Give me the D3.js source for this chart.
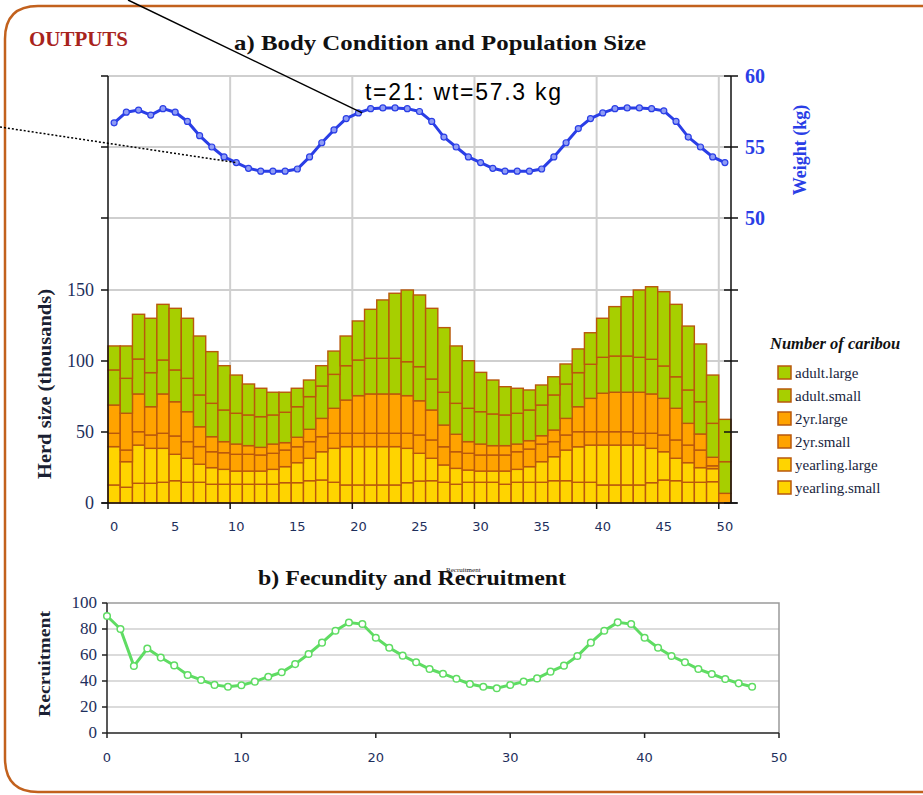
<!DOCTYPE html>
<head lang="en">
<meta charset="utf-8">
<title>Outputs: Body Condition, Population Size and Recruitment</title>
<style>
body { margin:0; background:#fff; }
text { font-family:"Liberation Serif","Times New Roman",serif; }
</style>
<script src="https://cdnjs.cloudflare.com/ajax/libs/d3/7.8.5/d3.min.js"></script>
</head>
<body>
<script>
// Time step categories (months) for panel a and panel b
var steps = d3.range(51);
var recSteps = d3.range(49);

// Mean body weight (kg), one value per time step
var weight = [56.7, 57.45, 57.6, 57.25, 57.7, 57.45, 56.8, 55.8, 55.0, 54.3,
	53.9, 53.5, 53.3, 53.3, 53.3, 53.45, 54.3, 55.3, 56.2, 57.0,
	57.4, 57.7, 57.75, 57.75, 57.7, 57.5, 56.8, 55.7, 55.0, 54.3,
	53.9, 53.5, 53.3, 53.3, 53.3, 53.45, 54.3, 55.3, 56.3, 57.0,
	57.4, 57.7, 57.75, 57.75, 57.7, 57.55, 56.8, 55.7, 55.0, 54.3,
	53.9];

// Herd size (thousands) by class, stacked bottom to top
var yearlingSmall = [12.7, 11.1, 13.9, 13.9, 14.6, 15.7, 14.6, 14.6, 13.2, 13.2,
	13.2, 13.2, 13.2, 13.2, 14.3, 14.3, 15.7, 16.2, 14.6, 12.7,
	12.7, 12.7, 12.7, 12.7, 14.3, 15.5, 15.7, 14.6, 13.2, 14.6,
	14.6, 14.6, 13.2, 14.6, 14.6, 14.6, 15.7, 15.7, 14.6, 14.6,
	12.7, 12.7, 12.7, 12.7, 14.3, 16.2, 15.7, 14.6, 14.6, 15.0,
	0];
var yearlingLarge = [27.0, 18.0, 26.9, 24.6, 23.9, 18.6, 16.9, 12.7, 11.7, 10.5,
	9.3, 9.3, 9.3, 10.5, 11.3, 14.1, 15.8, 19.9, 23.9, 27.0,
	27.0, 27.0, 27.0, 27.0, 24.2, 19.5, 15.8, 12.2, 11.2, 8.6,
	7.9, 7.9, 9.3, 9.1, 11.0, 14.5, 16.9, 21.6, 25.0, 26.2,
	28.1, 28.1, 28.1, 28.1, 24.2, 19.9, 15.8, 13.8, 10.3, 9.2,
	0];
var twoYrSmall = [9.4, 8.2, 9.4, 9.4, 10.6, 12.9, 11.7, 12.4, 11.2, 11.7,
	11.8, 11.8, 11.3, 11.3, 11.7, 11.2, 11.7, 10.6, 10.6, 9.4,
	9.4, 9.4, 9.4, 9.4, 10.6, 12.9, 12.9, 12.8, 11.7, 11.8,
	11.3, 11.3, 11.3, 12.4, 12.4, 12.4, 10.6, 10.6, 10.6, 9.4,
	9.4, 9.4, 9.4, 8.3, 10.6, 11.8, 12.9, 12.4, 12.4, 2.0,
	0];
var twoYrLarge = [19.9, 25.9, 26.6, 19.9, 27.7, 24.1, 21.1, 14.0, 10.6, 7.8,
	7.2, 6.1, 5.4, 6.5, 5.2, 6.7, 8.7, 12.9, 17.6, 23.4,
	26.5, 27.7, 27.7, 27.7, 26.5, 24.1, 21.1, 15.3, 12.3, 8.2,
	7.7, 6.6, 6.6, 5.4, 5.9, 5.9, 8.2, 11.7, 17.6, 23.5,
	27.1, 27.8, 27.8, 28.9, 27.7, 25.8, 22.3, 15.3, 11.3, 6.0,
	6.8];
var adultSmall = [24.7, 24.6, 24.6, 24.0, 23.9, 22.4, 23.5, 22.4, 23.5, 22.3,
	21.7, 21.6, 21.6, 20.5, 21.4, 21.5, 23.0, 22.8, 23.9, 24.2,
	25.1, 25.1, 25.1, 25.1, 23.9, 24.0, 21.8, 23.1, 21.8, 23.5,
	22.8, 22.3, 21.6, 21.7, 21.6, 21.6, 24.7, 24.2, 24.0, 24.0,
	25.3, 25.5, 25.5, 24.6, 24.4, 22.8, 22.2, 23.5, 22.7, 23.9,
	22.3];
var adultLarge = [16.9, 22.8, 31.5, 38.3, 39.2, 43.4, 42.3, 41.5, 36.4, 31.2,
	26.9, 21.8, 20.0, 16.0, 14.1, 13.0, 11.7, 14.3, 16.4, 20.9,
	27.5, 34.5, 41.1, 45.8, 50.5, 50.5, 49.8, 45.5, 40.4, 33.5,
	27.7, 23.9, 19.9, 17.6, 14.1, 14.1, 12.8, 14.1, 16.7, 22.2,
	27.5, 34.8, 41.8, 47.4, 51.1, 52.3, 51.0, 45.0, 40.7, 34.0,
	29.8];

// Recruitment, panel b
var recruitment = [90, 80, 51.5, 65, 58, 52, 44.6, 40.8, 37, 35.6,
	36.7, 39.5, 43.3, 46.7, 53, 60.8, 69.5, 78.7, 85, 83.8,
	73.3, 65.6, 59.5, 54.4, 49.2, 45.6, 41.7, 37.7, 35.6, 34.4,
	36.9, 39.5, 42, 47.2, 51.8, 59.2, 69.5, 78.7, 85.1, 83.8,
	73.3, 65.6, 59.2, 54.4, 49.2, 45.4, 41.5, 38.2, 35.6];

// Class keys (bottom to top) and legend order (top to bottom)
var classKeys = ["yearling.small", "yearling.large", "2yr.small", "2yr.large", "adult.small", "adult.large"];
var legendKeys = ["adult.large", "adult.small", "2yr.large", "2yr.small", "yearling.large", "yearling.small"];

// Tick labels
var herdTicks = [0, 50, 100, 150];
var weightTicks = [50, 55, 60];
var stepLabels = [0, 5, 10, 15, 20, 25, 30, 35, 40, 45, 50];
var recYTicks = [0, 20, 40, 60, 80, 100];
var recXTicks = [0, 10, 20, 30, 40, 50];

var width = 923, height = 795;
var svg = d3.select("body").append("svg")
	.attr("width", width)
	.attr("height", height);

var navy = "#1e2f5c";
var blue = "#2a3ee6";
var gridCol = "#cfcfcf";
var barStroke = "#b9580c";

var classColor = d3.scaleOrdinal()
	.domain(classKeys)
	.range(["#ffd400", "#ffd400", "#ffa300", "#ffa300", "#a7cf00", "#a7cf00"]);

// Rounded frame
svg.append("path")
	.attr("d", "M 930 6 H 38 Q 5 6 5 39 V 758 Q 5 792 38 792 H 930")
	.style("fill", "none")
	.style("stroke", "#c2611d")
	.style("stroke-width", 2.5);

svg.append("text")
	.attr("x", 29).attr("y", 46)
	.attr("textLength", 99)
	.attr("lengthAdjust", "spacingAndGlyphs")
	.style("font-size", "20px")
	.style("font-weight", "bold")
	.style("fill", "#a8231c")
	.text("OUTPUTS");

// ---------- Panel a ----------
var x = d3.scaleLinear().domain([0, 51]).range([108, 731]);
var yHerd = d3.scaleLinear().domain([0, 150]).range([503, 290]);
var yWt = d3.scaleLinear().domain([50, 60]).range([218, 76]);
var bw = x(1) - x(0);

svg.append("text")
	.attr("x", 440).attr("y", 50)
	.attr("text-anchor", "middle")
	.attr("textLength", 412)
	.attr("lengthAdjust", "spacingAndGlyphs")
	.style("font-size", "22px")
	.style("font-weight", "bold")
	.style("fill", "#111")
	.text("a)  Body Condition and Population Size");

// grid
var gridYs = weightTicks.map(yWt).concat(herdTicks.slice(1).map(yHerd));
svg.append("g").selectAll("line")
	.data(gridYs)
	.enter()
	.append("line")
		.attr("x1", x(0)).attr("x2", x(51))
		.attr("y1", function(d) { return d; })
		.attr("y2", function(d) { return d; })
		.style("stroke", gridCol)
		.style("stroke-width", 2);
svg.append("g").selectAll("line")
	.data([10, 20, 30, 40, 50])
	.enter()
	.append("line")
		.attr("x1", function(d) { return x(d); })
		.attr("x2", function(d) { return x(d); })
		.attr("y1", yWt(60)).attr("y2", yHerd(0))
		.style("stroke", gridCol)
		.style("stroke-width", 2);

// stacked bars
var table = steps.map(function(t) {
	return {
		t: t,
		"yearling.small": yearlingSmall[t],
		"yearling.large": yearlingLarge[t],
		"2yr.small": twoYrSmall[t],
		"2yr.large": twoYrLarge[t],
		"adult.small": adultSmall[t],
		"adult.large": adultLarge[t]
	};
});
var series = d3.stack().keys(classKeys)(table);

svg.append("g").selectAll("g")
	.data(series)
	.enter()
	.append("g")
		.style("fill", function(d) { return classColor(d.key); })
	.selectAll("rect")
	.data(function(d) { return d.filter(function(p) { return p[1] - p[0] > 0; }); })
	.enter()
	.append("rect")
		.attr("x", function(d) { return x(d.data.t); })
		.attr("width", bw)
		.attr("y", function(d) { return yHerd(d[1]); })
		.attr("height", function(d) { return yHerd(d[0]) - yHerd(d[1]); })
		.style("stroke", barStroke)
		.style("stroke-width", 1.4);

// axes
var axisCol = "#111";
svg.append("line")
	.attr("x1", x(0)).attr("x2", x(0)).attr("y1", yWt(60)).attr("y2", yHerd(0))
	.style("stroke", axisCol).style("stroke-width", 1.5);
svg.append("line")
	.attr("x1", x(51)).attr("x2", x(51)).attr("y1", yWt(60)).attr("y2", yHerd(0))
	.style("stroke", axisCol).style("stroke-width", 1.5);
svg.append("line")
	.attr("x1", x(0) - 6).attr("x2", x(51) + 6).attr("y1", yHerd(0)).attr("y2", yHerd(0))
	.style("stroke", axisCol).style("stroke-width", 1.5);

var allYTicks = gridYs.concat([yHerd(0)]);
svg.append("g").selectAll("line")
	.data(allYTicks)
	.enter()
	.append("line")
		.attr("x1", x(0) - 7).attr("x2", x(0))
		.attr("y1", function(d) { return d; })
		.attr("y2", function(d) { return d; })
		.style("stroke", axisCol).style("stroke-width", 1.5);
svg.append("g").selectAll("line")
	.data(allYTicks)
	.enter()
	.append("line")
		.attr("x1", x(51) - 7).attr("x2", x(51) + 7)
		.attr("y1", function(d) { return d; })
		.attr("y2", function(d) { return d; })
		.style("stroke", axisCol).style("stroke-width", 1.5);
svg.append("g").selectAll("line")
	.data([0, 10, 20, 30, 40, 50])
	.enter()
	.append("line")
		.attr("x1", function(d) { return x(d); })
		.attr("x2", function(d) { return x(d); })
		.attr("y1", yHerd(0)).attr("y2", yHerd(0) + 6)
		.style("stroke", axisCol).style("stroke-width", 1.5);

// left labels
svg.append("g").selectAll("text")
	.data(herdTicks)
	.enter()
	.append("text")
		.attr("x", 94)
		.attr("y", function(d) { return yHerd(d) + 6; })
		.attr("text-anchor", "end")
		.style("font-size", "18px")
		.style("fill", navy)
		.text(function(d) { return d; });

svg.append("text")
	.attr("transform", "translate(51," + 384 + ") rotate(-90)")
	.attr("text-anchor", "middle")
	.attr("textLength", 190)
	.attr("lengthAdjust", "spacingAndGlyphs")
	.style("font-size", "18px")
	.style("font-weight", "bold")
	.style("fill", "#1a1f33")
	.text("Herd size (thousands)");

// right labels
svg.append("g").selectAll("text")
	.data(weightTicks)
	.enter()
	.append("text")
		.attr("x", 745)
		.attr("y", function(d) { return yWt(d) + 7; })
		.style("font-size", "20px")
		.style("font-weight", "bold")
		.style("fill", blue)
		.text(function(d) { return d; });

svg.append("text")
	.attr("transform", "translate(806," + 150 + ") rotate(-90)")
	.attr("text-anchor", "middle")
	.style("font-size", "18px")
	.style("font-weight", "bold")
	.style("fill", blue)
	.text("Weight (kg)");

// x labels
svg.append("g").selectAll("text")
	.data(stepLabels)
	.enter()
	.append("text")
		.attr("x", function(d) { return x(d + 0.5); })
		.attr("y", 531)
		.attr("text-anchor", "middle")
		.style("font-family", "'DejaVu Sans',Verdana,sans-serif")
		.style("font-size", "13px")
		.style("fill", navy)
		.text(function(d) { return d; });

// weight line
var wtLine = d3.line()
	.x(function(d, i) { return x(i + 0.5); })
	.y(function(d) { return yWt(d); });
svg.append("path")
	.datum(weight)
	.attr("d", wtLine)
	.style("fill", "none")
	.style("stroke", blue)
	.style("stroke-width", 3);
svg.append("g").selectAll("circle")
	.data(weight)
	.enter()
	.append("circle")
		.attr("cx", function(d, i) { return x(i + 0.5); })
		.attr("cy", function(d) { return yWt(d); })
		.attr("r", 3)
		.style("fill", "#8f9cf5")
		.style("stroke", blue)
		.style("stroke-width", 1.2);

// annotation
svg.append("line")
	.attr("x1", 128).attr("y1", 0)
	.attr("x2", x(20.8)).attr("y2", yWt(57.4))
	.style("stroke", "#000").style("stroke-width", 1.5);
svg.append("line")
	.attr("x1", 0).attr("y1", 127)
	.attr("x2", x(10.5)).attr("y2", yWt(weight[10]))
	.style("stroke", "#000").style("stroke-width", 1.5)
	.style("stroke-dasharray", "2,2");
svg.append("text")
	.attr("x", 365).attr("y", 100)
	.attr("textLength", 196)
	.style("font-family", "'Liberation Sans',Arial,sans-serif")
	.style("font-size", "23px")
	.style("fill", "#000")
	.text("t=21: wt=57.3 kg");

// legend
svg.append("text")
	.attr("x", 770).attr("y", 349)
	.style("font-size", "16.5px")
	.style("font-weight", "bold")
	.style("font-style", "italic")
	.style("fill", "#111")
	.text("Number of caribou");
var legend = svg.append("g").selectAll("g")
	.data(legendKeys)
	.enter()
	.append("g")
		.attr("transform", function(d, i) { return "translate(778," + (366 + i * 23) + ")"; });
legend.append("rect")
	.attr("width", 13).attr("height", 13)
	.style("fill", function(d) { return classColor(d); })
	.style("stroke", barStroke)
	.style("stroke-width", 1.5);
legend.append("text")
	.attr("x", 17).attr("y", 12)
	.style("font-size", "15px")
	.style("fill", "#1a1f40")
	.text(function(d) { return d; });

// ---------- Panel b ----------
var xr = d3.scaleLinear().domain([0, 50]).range([107, 779]);
var yr = d3.scaleLinear().domain([0, 100]).range([733, 603]);

svg.append("text")
	.attr("x", 412).attr("y", 585)
	.attr("text-anchor", "middle")
	.attr("textLength", 308)
	.attr("lengthAdjust", "spacingAndGlyphs")
	.style("font-size", "21px")
	.style("font-weight", "bold")
	.style("fill", "#111")
	.text("b)  Fecundity and Recruitment");
svg.append("text")
	.attr("x", 446).attr("y", 572)
	.style("font-size", "7px")
	.style("fill", "#111")
	.text("Recruitment");

svg.append("g").selectAll("line")
	.data([20, 40, 60, 80])
	.enter()
	.append("line")
		.attr("x1", xr(0)).attr("x2", xr(50))
		.attr("y1", function(d) { return yr(d); })
		.attr("y2", function(d) { return yr(d); })
		.style("stroke", gridCol)
		.style("stroke-width", 1.5);
svg.append("path")
	.attr("d", "M" + xr(0) + "," + yr(100) + "H" + xr(50) + "V" + yr(0))
	.style("fill", "none")
	.style("stroke", "#9a9a9a")
	.style("stroke-width", 1.5);
svg.append("line")
	.attr("x1", xr(0)).attr("x2", xr(0)).attr("y1", yr(100)).attr("y2", yr(0))
	.style("stroke", "#222").style("stroke-width", 1.5);
svg.append("line")
	.attr("x1", xr(0)).attr("x2", xr(50)).attr("y1", yr(0)).attr("y2", yr(0))
	.style("stroke", "#222").style("stroke-width", 1.5);
svg.append("g").selectAll("line")
	.data(recYTicks)
	.enter()
	.append("line")
		.attr("x1", xr(0) - 5).attr("x2", xr(0))
		.attr("y1", function(d) { return yr(d); })
		.attr("y2", function(d) { return yr(d); })
		.style("stroke", "#222").style("stroke-width", 1.5);
svg.append("g").selectAll("line")
	.data(recXTicks)
	.enter()
	.append("line")
		.attr("x1", function(d) { return xr(d); })
		.attr("x2", function(d) { return xr(d); })
		.attr("y1", yr(0)).attr("y2", yr(0) + 5)
		.style("stroke", "#222").style("stroke-width", 1.5);

svg.append("g").selectAll("text")
	.data(recYTicks)
	.enter()
	.append("text")
		.attr("x", 97)
		.attr("y", function(d) { return yr(d) + 5; })
		.attr("text-anchor", "end")
		.style("font-size", "17px")
		.style("fill", navy)
		.text(function(d) { return d; });
svg.append("g").selectAll("text")
	.data(recXTicks)
	.enter()
	.append("text")
		.attr("x", function(d) { return xr(d); })
		.attr("y", 762)
		.attr("text-anchor", "middle")
		.style("font-family", "'DejaVu Sans',Verdana,sans-serif")
		.style("font-size", "13px")
		.style("fill", navy)
		.text(function(d) { return d; });

svg.append("text")
	.attr("transform", "translate(50," + 664 + ") rotate(-90)")
	.attr("text-anchor", "middle")
	.attr("textLength", 106)
	.attr("lengthAdjust", "spacingAndGlyphs")
	.style("font-size", "17px")
	.style("font-weight", "bold")
	.style("fill", "#1a1f33")
	.text("Recruitment");

var recLine = d3.line()
	.x(function(d, i) { return xr(recSteps[i]); })
	.y(function(d) { return yr(d); });
svg.append("path")
	.datum(recruitment)
	.attr("d", recLine)
	.style("fill", "none")
	.style("stroke", "#5fdc63")
	.style("stroke-width", 3);
svg.append("g").selectAll("circle")
	.data(recruitment)
	.enter()
	.append("circle")
		.attr("cx", function(d, i) { return xr(recSteps[i]); })
		.attr("cy", function(d) { return yr(d); })
		.attr("r", 3.3)
		.style("fill", "#fff")
		.style("stroke", "#5fdc63")
		.style("stroke-width", 1.5);
</script>
</body>
</html>
